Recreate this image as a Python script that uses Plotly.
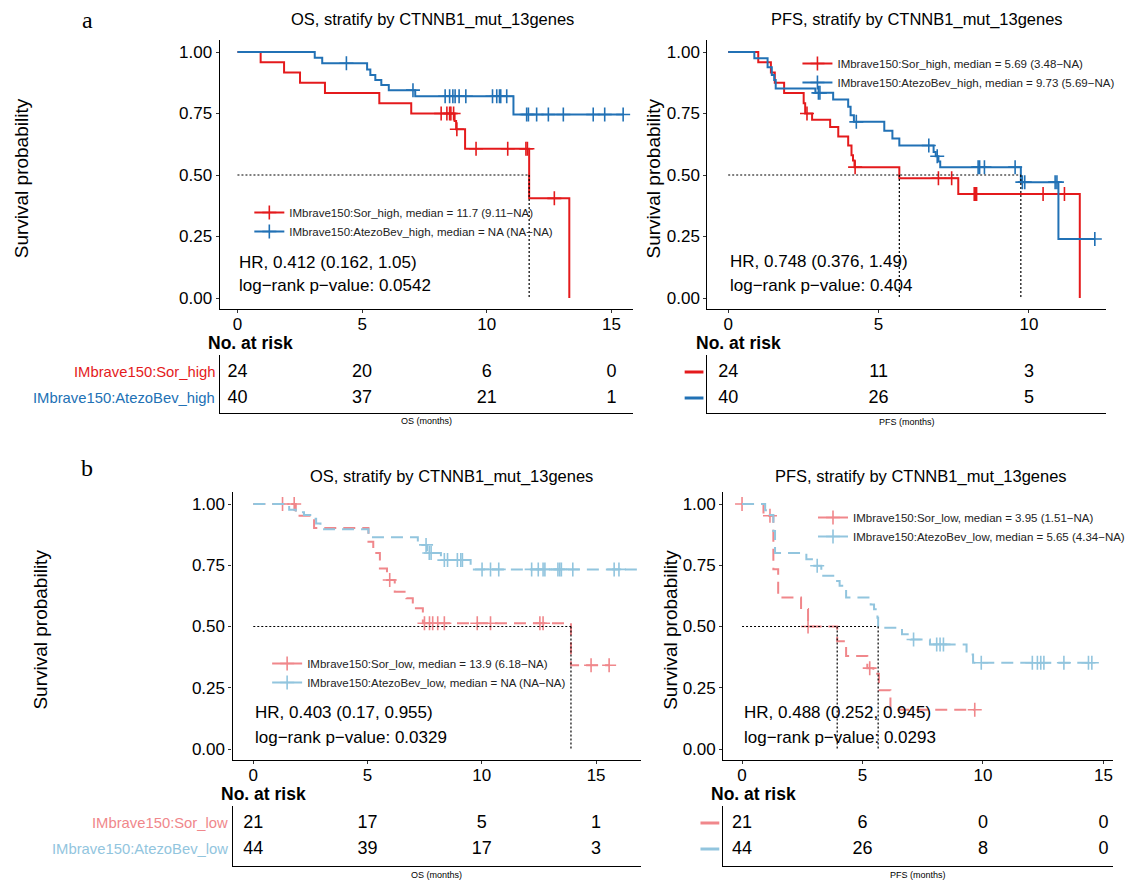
import plotly.graph_objects as go
import numpy as np

W, H = 1130, 880
FONT = "Liberation Sans, Arial, Helvetica, sans-serif"
RED, BLUE, PINK, LBLUE = "#E41A1C", "#2171B5", "#F0878B", "#92C5DE"

# ---------------- data (months / survival probability) ----------------
aos_sor_t = [0, 0.93, 1.87, 2.51, 3.51, 5.69, 6.97, 8.71, 8.77, 9.13, 11.70, 13.31]
aos_sor_s = [1.0, 0.958, 0.917, 0.875, 0.833, 0.792, 0.75, 0.72, 0.686, 0.607, 0.405, 0.0]
aos_sor_c = [8.17, 8.40, 8.51, 8.56, 8.67, 8.80, 9.57, 10.84, 11.57, 11.63, 12.71]
aos_sor_end = 13.31
aos_atz_t = [0, 3.10, 3.40, 5.20, 5.33, 5.53, 5.77, 6.07, 7.13, 11.07]
aos_atz_s = [1.0, 0.977, 0.954, 0.929, 0.906, 0.886, 0.866, 0.845, 0.82, 0.746]
aos_atz_c = [4.37, 7.04, 8.33, 8.51, 8.64, 8.73, 8.89, 9.16, 10.23, 10.40, 10.51, 10.56,
             10.80, 11.60, 11.67, 12.00, 12.47, 13.07, 14.27, 14.73, 15.47]
aos_atz_end = 15.47
aos_medians = [11.7]

apfs_sor_t = [0, 1.00, 1.42, 1.55, 1.86, 2.51, 2.56, 2.79, 3.39, 3.66, 3.99, 4.10, 4.15, 4.20, 5.69, 7.65, 11.69]
apfs_sor_s = [1.0, 0.958, 0.917, 0.875, 0.833, 0.792, 0.75, 0.725, 0.695, 0.657, 0.62, 0.58, 0.559, 0.532, 0.487, 0.423, 0.0]
apfs_sor_c = [2.62, 4.22, 6.99, 7.43, 8.18, 8.22, 8.26, 10.47, 11.18]
apfs_sor_end = 11.69
apfs_atz_t = [0, 0.87, 1.31, 1.45, 1.53, 1.58, 2.90, 3.49, 3.99, 4.07, 4.18, 5.19, 5.46, 5.69,
              6.83, 6.90, 6.99, 7.05, 9.73, 10.98]
apfs_atz_s = [1.0, 0.975, 0.938, 0.906, 0.886, 0.852, 0.834, 0.807, 0.777, 0.743, 0.716, 0.68, 0.648, 0.62,
              0.593, 0.576, 0.555, 0.532, 0.471, 0.24]
apfs_atz_c = [3.00, 3.05, 4.26, 6.67, 6.95, 8.31, 8.36, 8.52, 9.54, 9.78, 9.86, 10.87, 10.93, 12.19]
apfs_atz_end = 12.19
apfs_medians = [5.69, 9.73]

bos_sor_t = [0, 1.86, 2.66, 5.04, 5.25, 5.54, 5.85, 6.19, 6.70, 6.98, 7.42, 13.90]
bos_sor_s = [1.0, 0.952, 0.902, 0.846, 0.80, 0.737, 0.69, 0.642, 0.615, 0.574, 0.513, 0.342]
bos_sor_c = [1.28, 1.79, 5.97, 7.49, 7.71, 7.85, 8.07, 8.36, 9.80, 10.38, 12.54, 12.68, 14.78, 15.57]
bos_sor_end = 15.57
bos_atz_t = [0, 1.57, 1.86, 2.22, 2.66, 2.75, 2.94, 5.04, 7.20, 7.60, 8.21, 9.51]
bos_atz_s = [1.0, 0.977, 0.966, 0.955, 0.94, 0.92, 0.897, 0.864, 0.833, 0.80, 0.771, 0.733]
bos_atz_c = [7.56, 7.70, 7.78, 8.36, 8.50, 8.93, 9.08, 9.15, 10.01, 10.38, 10.74, 12.18, 12.47,
             12.68, 12.76, 13.33, 13.41, 13.48, 13.98, 15.79, 16.00]
bos_atz_end = 17.0
bos_medians = [13.9]

bpfs_sor_t = [0, 0.89, 1.30, 1.50, 2.45, 2.74, 3.95, 4.32, 5.20, 5.45, 5.68, 6.16]
bpfs_sor_s = [1.0, 0.952, 0.734, 0.618, 0.571, 0.50, 0.44, 0.38, 0.33, 0.307, 0.24, 0.16]
bpfs_sor_c = [0.0, 1.16, 2.74, 5.30, 9.66]
bpfs_sor_end = 9.66
bpfs_atz_t = [0, 0.96, 1.10, 1.30, 1.37, 2.67, 2.95, 3.29, 3.90, 4.05, 4.32, 5.34, 5.48, 5.62, 5.65,
              6.64, 7.00, 7.80, 9.32, 9.59]
bpfs_atz_s = [1.0, 0.975, 0.955, 0.89, 0.80, 0.775, 0.748, 0.707, 0.686, 0.666, 0.618, 0.59, 0.57, 0.536, 0.495,
              0.468, 0.447, 0.427, 0.386, 0.352]
bpfs_atz_c = [3.12, 7.12, 8.08, 8.22, 8.36, 9.93, 12.05, 12.26, 12.40, 12.53, 13.36, 14.38, 14.52]
bpfs_atz_end = 14.6
bpfs_medians = [3.95, 5.65]

risk_times_os = [0, 5, 10, 15]
risk_times_apfs = [0, 5, 10]
risk_times_bpfs = [0, 5, 10, 15]
aos_risk_sor, aos_risk_atz = [24, 20, 6, 0], [40, 37, 21, 1]
apfs_risk_sor, apfs_risk_atz = [24, 11, 3], [40, 26, 5]
bos_risk_sor, bos_risk_atz = [21, 17, 5, 1], [44, 39, 17, 3]
bpfs_risk_sor, bpfs_risk_atz = [21, 6, 0, 0], [44, 26, 8, 0]

grp_high = ["IMbrave150:Sor_high", "IMbrave150:AtezoBev_high"]
grp_low = ["IMbrave150:Sor_low", "IMbrave150:AtezoBev_low"]
title_os = "OS, stratify by CTNNB1_mut_13genes"
title_pfs = "PFS, stratify by CTNNB1_mut_13genes"

# ---------------- layout geometry (pixels) ----------------
panels = [
    dict(name="aOS", L=222, R=640, x0=240, ppu=25.2, T=40, B=309, y0=298, ppy=246,
         rT=355, rB=413, r1=372, r2=398, ytitle_x=22, dash=None,
         cols=(RED, BLUE), groups=grp_high,
         curves=[(aos_sor_t, aos_sor_s, aos_sor_c, aos_sor_end), (aos_atz_t, aos_atz_s, aos_atz_c, aos_atz_end)],
         medians=aos_medians, title=title_os, tx=437, ty=20,
         leg_text=["IMbrave150:Sor_high, median = 11.7 (9.11−NA)",
                   "IMbrave150:AtezoBev_high, median = NA (NA−NA)"],
         leg=(252, 198), hr="HR, 0.412 (0.162, 1.05)", p="log−rank p−value: 0.0542", hx=240, hy=(262, 286),
         rtimes=risk_times_os, risk=(aos_risk_sor, aos_risk_atz), labels=True, xlab="OS (months)", xlab_y=421),
    dict(name="aPFS", L=715, R=1118, x0=736, ppu=30.4, T=40, B=309, y0=298, ppy=246,
         rT=355, rB=413, r1=372, r2=398, ytitle_x=661, dash=None,
         cols=(RED, BLUE), groups=grp_high,
         curves=[(apfs_sor_t, apfs_sor_s, apfs_sor_c, apfs_sor_end), (apfs_atz_t, apfs_atz_s, apfs_atz_c, apfs_atz_end)],
         medians=apfs_medians, title=title_pfs, tx=927, ty=20,
         leg_text=["IMbrave150:Sor_high, median = 5.69 (3.48−NA)",
                   "IMbrave150:AtezoBev_high, median = 9.73 (5.69−NA)"],
         leg=(806, 49), hr="HR, 0.748 (0.376, 1.49)", p="log−rank p−value: 0.404", hx=736, hy=(261, 285),
         rtimes=risk_times_apfs, risk=(apfs_risk_sor, apfs_risk_atz), labels=False, xlab="PFS (months)", xlab_y=422),
    dict(name="bOS", L=235, R=648, x0=256, ppu=23.1, T=492, B=760, y0=749, ppy=245,
         rT=806, rB=866, r1=823, r2=849, ytitle_x=40, dash="12px,7px",
         cols=(PINK, LBLUE), groups=grp_low,
         curves=[(bos_sor_t, bos_sor_s, bos_sor_c, bos_sor_end), (bos_atz_t, bos_atz_s, bos_atz_c, bos_atz_end)],
         medians=bos_medians, title=title_os, tx=456, ty=477,
         leg_text=["IMbrave150:Sor_low, median = 13.9 (6.18−NA)",
                   "IMbrave150:AtezoBev_low, median = NA (NA−NA)"],
         leg=(270, 649), hr="HR, 0.403 (0.17, 0.955)", p="log−rank p−value: 0.0329", hx=256, hy=(712, 737),
         rtimes=risk_times_os, risk=(bos_risk_sor, bos_risk_atz), labels=True, xlab="OS (months)", xlab_y=875),
    dict(name="bPFS", L=731, R=1125, x0=750, ppu=24.35, T=492, B=760, y0=749, ppy=245,
         rT=806, rB=866, r1=823, r2=849, ytitle_x=677, dash="12px,7px",
         cols=(PINK, LBLUE), groups=grp_low,
         curves=[(bpfs_sor_t, bpfs_sor_s, bpfs_sor_c, bpfs_sor_end), (bpfs_atz_t, bpfs_atz_s, bpfs_atz_c, bpfs_atz_end)],
         medians=bpfs_medians, title=title_pfs, tx=931, ty=477,
         leg_text=["IMbrave150:Sor_low, median = 3.95 (1.51−NA)",
                   "IMbrave150:AtezoBev_low, median = 5.65 (4.34−NA)"],
         leg=(822, 503), hr="HR, 0.488 (0.252, 0.945)", p="log−rank p−value: 0.0293", hx=750, hy=(712, 737),
         rtimes=risk_times_bpfs, risk=(bpfs_risk_sor, bpfs_risk_atz), labels=False, xlab="PFS (months)", xlab_y=875),
]


def fx(p):
    return p / W


def fy(p):
    return 1 - p / H


def surv_at(t, s, c):
    idx = np.searchsorted(np.array(t), np.array(c), side="right") - 1
    return [s[i] for i in idx]


fig = go.Figure()
annotations = []
shapes = []
layout = {}

for i, P in enumerate(panels):
    k = i + 1
    kr = i + 5
    xa, ya = f"x{k}", f"y{k}"
    xr, yr = f"x{kr}", f"y{kr}"
    legname = "legend" if k == 1 else f"legend{k}"
    xrange = [(P["L"] - P["x0"]) / P["ppu"], (P["R"] - P["x0"]) / P["ppu"]]
    yrange = [(P["y0"] - P["B"]) / P["ppy"], (P["y0"] - P["T"]) / P["ppy"]]

    # KM curves
    for (t, s, c, end), col, g, lt in zip(P["curves"], P["cols"], P["groups"], P["leg_text"]):
        xs = list(t) + [end]
        ys = list(s) + [s[-1]]
        line = dict(color=col, width=2, shape="hv")
        if P["dash"]:
            line["dash"] = P["dash"]
        fig.add_trace(go.Scatter(x=xs, y=ys, mode="lines", line=line, xaxis=xa, yaxis=ya,
                                 showlegend=False, hoverinfo="skip"))
        fig.add_trace(go.Scatter(x=c, y=surv_at(t, s, c), mode="markers", xaxis=xa, yaxis=ya,
                                 marker=dict(symbol="cross-thin", size=10, color=col,
                                             line=dict(color=col, width=1.6)),
                                 showlegend=False, hoverinfo="skip"))
        # legend entry
        fig.add_trace(go.Scatter(x=[None], y=[None], mode="lines+markers", name=lt, xaxis=xa, yaxis=ya,
                                 line=dict(color=col, width=2),
                                 marker=dict(symbol="cross-thin", size=10, color=col,
                                             line=dict(color=col, width=1.6)),
                                 legend=legname, showlegend=True))

    # median lines
    meds = P["medians"]
    mline = dict(color="black", width=1.2, dash="2px,2px")
    fig.add_trace(go.Scatter(x=[0, max(meds)], y=[0.5, 0.5], mode="lines", line=mline,
                             xaxis=xa, yaxis=ya, showlegend=False, hoverinfo="skip"))
    for m in meds:
        fig.add_trace(go.Scatter(x=[m, m], y=[0.5, 0], mode="lines", line=mline,
                                 xaxis=xa, yaxis=ya, showlegend=False, hoverinfo="skip"))

    # axes
    axcommon = dict(showline=True, linecolor="black", linewidth=1.2, ticks="outside", ticklen=3,
                    tickcolor="#333333", showgrid=False, zeroline=False,
                    tickfont=dict(family=FONT, size=17, color="black"))
    layout[f"xaxis{k}"] = dict(axcommon, domain=[fx(P["L"]), fx(P["R"])], range=xrange,
                               tickvals=[0, 5, 10, 15], anchor=ya, ticklabelstandoff=-4)
    layout[f"yaxis{k}"] = dict(axcommon, domain=[fy(P["B"]), fy(P["T"])], range=yrange,
                               tickvals=[0, 0.25, 0.5, 0.75, 1.0],
                               ticktext=["0.00", "0.25", "0.50", "0.75", "1.00"], anchor=xa)

    # legend
    layout[legname] = dict(x=fx(P["leg"][0]), y=fy(P["leg"][1]), xanchor="left", yanchor="top",
                           bgcolor="rgba(0,0,0,0)", font=dict(family=FONT, size=11.5, color="#222"),
                           itemwidth=30, tracegroupgap=0, itemclick=False)

    # risk table
    rp = P["r2"] - P["r1"]
    ryrange = [1 - (P["rB"] - P["r2"]) / rp, 2 + (P["r1"] - P["rT"]) / rp]
    layout[f"xaxis{kr}"] = dict(domain=[fx(P["L"]), fx(P["R"])], range=xrange, showline=True,
                                linecolor="black", linewidth=1.2, showticklabels=False, ticks="",
                                showgrid=False, zeroline=False, anchor=yr)
    layout[f"yaxis{kr}"] = dict(domain=[fy(P["rB"]), fy(P["rT"])], range=ryrange, showline=True,
                                linecolor="black", linewidth=1.2, showticklabels=False, ticks="",
                                showgrid=False, zeroline=False, anchor=xr)
    for row, vals in zip([2, 1], P["risk"]):
        fig.add_trace(go.Scatter(x=P["rtimes"], y=[row] * len(vals), mode="text",
                                 text=[str(v) for v in vals], textposition="middle center",
                                 textfont=dict(family=FONT, size=18, color="black"),
                                 xaxis=xr, yaxis=yr, showlegend=False, hoverinfo="skip"))
    for row, col, g in zip([2, 1], P["cols"], P["groups"]):
        if P["labels"]:
            annotations.append(dict(x=fx(P["L"] - 3), y=row, xref="paper", yref=yr, text=g,
                                    showarrow=False, xanchor="right", yanchor="middle",
                                    font=dict(family=FONT, size=14.8, color=col)))
        else:
            shapes.append(dict(type="line", xref="paper", yref=yr, x0=fx(P["L"] - 23), x1=fx(P["L"] - 4),
                               y0=row, y1=row, line=dict(color=col, width=3)))
    annotations.append(dict(x=fx(P["L"] - 14), y=fy(P["rT"] - 12), xref="paper", yref="paper",
                            text="<b>No. at risk</b>", showarrow=False, xanchor="left", yanchor="middle",
                            font=dict(family=FONT, size=17.5, color="black")))
    annotations.append(dict(x=fx((P["L"] + P["R"]) / 2), y=fy(P["xlab_y"]), xref="paper", yref="paper",
                            text=P["xlab"], showarrow=False, xanchor="center", yanchor="middle",
                            font=dict(family=FONT, size=9, color="black")))

    # titles and texts
    annotations.append(dict(x=fx(P["tx"]), y=fy(P["ty"]), xref="paper", yref="paper", text=P["title"],
                            showarrow=False, xanchor="center", yanchor="middle",
                            font=dict(family=FONT, size=16.5, color="black")))
    annotations.append(dict(x=fx(P["ytitle_x"]), y=fy((P["T"] + P["B"]) / 2 + 4), xref="paper", yref="paper",
                            text="Survival probability", textangle=-90, showarrow=False,
                            xanchor="center", yanchor="middle",
                            font=dict(family=FONT, size=19, color="black")))
    for txt, yy in zip([P["hr"], P["p"]], P["hy"]):
        annotations.append(dict(x=fx(P["hx"]), y=fy(yy), xref="paper", yref="paper", text=txt,
                                showarrow=False, xanchor="left", yanchor="middle",
                                font=dict(family=FONT, size=17, color="black")))

for lab, yy in [("a", 20), ("b", 468)]:
    annotations.append(dict(x=fx(88), y=fy(yy), xref="paper", yref="paper", text=lab, showarrow=False,
                            xanchor="center", yanchor="middle",
                            font=dict(family="Liberation Serif, Times New Roman, serif", size=24, color="black")))

fig.update_layout(width=W, height=H, margin=dict(l=0, r=0, t=0, b=0), plot_bgcolor="white",
                  paper_bgcolor="white", annotations=annotations, shapes=shapes, **layout)
fig.write_html("out.html")
